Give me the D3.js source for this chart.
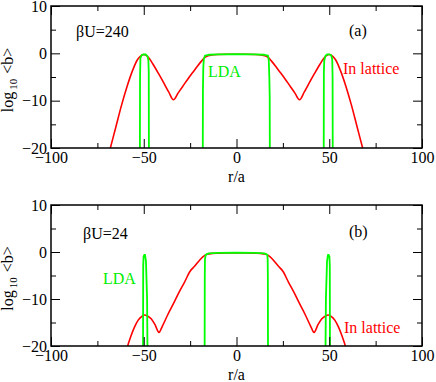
<!DOCTYPE html>
<html>
<head>
<meta charset="utf-8">
<script src="https://cdn.jsdelivr.net/npm/d3@7"></script>
<style>
  body { margin: 0; background: #fff; }
  svg { display: block; }
  text { font-family: "Liberation Serif", "Times New Roman", serif; }
</style>
</head>
<body>
<div id="chart"></div>
<script>
var wide = 436;
var high = 382;

// tick values
var xMajor = [-100, -50, 0, 50, 100];
var xMinor = [-75, -25, 25, 75];
var yMajor = [-20, -10, 0, 10];
var yMinor = [-15, -5, 5];

// panel (a), beta U = 240 : in lattice
var latticeA_r = [-68, -65, -62, -59, -56, -53.5, -52, -50, -48.5, -47, -45, -42, -39, -36.5, -34, -31.5, -29, -26, -23.5, -21, -19, -17.5, -16, -14, -10, -5, 0,
                  5, 10, 14, 16, 17.5, 19, 21, 23.5, 26, 29, 31.5, 34, 36.5, 39, 42, 45, 47, 48.5, 50, 52, 53.5, 56, 59, 62, 65, 68];
var latticeA_v = [-20, -15.5, -11, -7, -3.6, -1.4, -0.7, -0.25, -0.5, -1.1, -2.3, -4.3, -6.4, -8.2, -9.8, -8.4, -7, -5.3, -4, -2.7, -1.7, -1, -0.6, -0.4, -0.25, -0.2, -0.2,
                  -0.2, -0.25, -0.4, -0.6, -1, -1.7, -2.7, -4, -5.3, -7, -8.4, -9.8, -8.2, -6.4, -4.3, -2.3, -1.1, -0.5, -0.25, -0.7, -1.4, -3.6, -7, -11, -15.5, -20];
// panel (a) : LDA
var ldaA_r = [-52.1, -52, -51.8, -51, -50, -49, -48, -47.5, -47.3, -47.2,
              -18.2, -18.1, -17.9, -17.6, -17, -15, -10, 0, 10, 15, 17, 17.4, 17.7, 17.9, 18,
              47, 47.1, 47.3, 48, 49, 50, 51, 51.6, 51.8, 51.9];
var ldaA_v = [-25, -5, -1, -0.3, -0.2, -0.25, -0.6, -1.5, -4, -25,
              -25, -8, -3, -1.2, -0.5, -0.3, -0.2, -0.15, -0.2, -0.3, -0.5, -1.5, -5, -9, -25,
              -25, -4, -1.5, -0.5, -0.2, -0.2, -0.4, -1.2, -5, -25];

// panel (b), beta U = 24 : in lattice
var latticeB_r = [-58.7, -57, -55, -53, -51, -49.5, -48, -46, -44, -41.8, -40, -37, -34, -31, -28, -25, -22.5, -20, -18, -16, -13, -10, -5, 0,
                  5, 10, 13, 16, 18, 20, 22.5, 25, 28, 31, 34, 37, 40, 41.8, 44, 46, 48, 49.5, 51, 53, 55, 57, 58.7];
var latticeB_v = [-20, -18, -16, -14.5, -13.7, -13.4, -13.6, -14.2, -15.4, -17.1, -15.8, -13.3, -11, -8.6, -6.4, -4.1, -3, -1.8, -1, -0.5, -0.3, -0.25, -0.2, -0.2,
                  -0.2, -0.25, -0.3, -0.5, -1, -1.8, -3, -4.1, -6.4, -8.6, -11, -13.3, -15.8, -17.1, -15.4, -14.2, -13.6, -13.4, -13.7, -14.5, -16, -18, -20];
// panel (b) : LDA
var ldaB_r = [-50.4, -50.3, -50.1, -49.7, -49.3, -48.8, -48.2, -47.9,
              -17.2, -17.1, -17, -16.6, -15, -10, 0, 10, 15, 16.6, 16.8, 16.9, 17,
              47.9, 48.2, 48.8, 49.3, 49.7, 50.1, 50.3, 50.4];
var ldaB_v = [-25, -3, -1, -0.6, -0.6, -2, -10, -25,
              -25, -5, -1.5, -0.6, -0.3, -0.2, -0.15, -0.2, -0.3, -0.6, -1.5, -5, -25,
              -25, -10, -2, -0.6, -0.6, -1, -3, -25];

var svg = d3.select("#chart").append("svg")
  .attr("width", wide)
  .attr("height", high);

function zip(rs, vs) {
  return rs.map(function(r, i) { return [r, vs[i]]; });
}

function drawPanel(p) {
  var xScale = d3.scaleLinear().domain([-100, 100]).range([51, 422]);
  var yScale = d3.scaleLinear().domain([-20, 10]).range([p.bottom, p.top]);

  var g = svg.append("g");

  g.append("clipPath").attr("id", p.id)
    .append("rect")
    .attr("x", 51).attr("y", p.top)
    .attr("width", 371).attr("height", p.bottom - p.top);

  var line = d3.line()
    .x(function(d) { return xScale(d[0]); })
    .y(function(d) { return yScale(d[1]); })
    .curve(d3.curveMonotoneX);

  var lines = g.append("g").attr("clip-path", "url(#" + p.id + ")");
  lines.append("path")
    .datum(zip(p.latR, p.latV))
    .attr("d", line)
    .attr("fill", "none")
    .attr("stroke", "#ff0000")
    .attr("stroke-width", 1.6);
  lines.append("path")
    .datum(zip(p.ldaR, p.ldaV))
    .attr("d", d3.line()
      .x(function(d) { return xScale(d[0]); })
      .y(function(d) { return yScale(d[1]); }))
    .attr("fill", "none")
    .attr("stroke", "#00ff00")
    .attr("stroke-width", 1.8)
    .attr("stroke-linejoin", "round");

  // axes, ticks pointing inward
  function ax(axis, tr, vals, len, labels) {
    var a = g.append("g")
      .attr("transform", tr)
      .call(axis.tickValues(vals).tickSizeInner(-len).tickSizeOuter(0).tickPadding(4)
        .tickFormat(labels ? d3.format("d") : ""));
    a.select(".domain").remove();
    a.selectAll("line").attr("stroke", "#000").attr("stroke-width", 1);
    a.selectAll("text").attr("font-size", 16).attr("fill", "#000")
      .style("font-family", "'Liberation Serif', 'Times New Roman', serif");
    return a;
  }
  ax(d3.axisBottom(xScale), "translate(0," + p.bottom + ")", xMajor, 9, true);
  ax(d3.axisBottom(xScale), "translate(0," + p.bottom + ")", xMinor, 5, false);
  ax(d3.axisTop(xScale), "translate(0," + p.top + ")", xMajor, 9, false);
  ax(d3.axisTop(xScale), "translate(0," + p.top + ")", xMinor, 5, false);
  ax(d3.axisLeft(yScale), "translate(51,0)", yMajor, 9, true);
  ax(d3.axisLeft(yScale), "translate(51,0)", yMinor, 5, false);
  ax(d3.axisRight(yScale), "translate(422,0)", yMajor, 9, false);
  ax(d3.axisRight(yScale), "translate(422,0)", yMinor, 5, false);

  g.append("rect")
    .attr("x", 51).attr("y", p.top)
    .attr("width", 371).attr("height", p.bottom - p.top)
    .attr("fill", "none")
    .attr("stroke", "#000")
    .attr("stroke-width", 1.5);

  g.append("text")
    .attr("x", 236.5).attr("y", p.bottom + 34)
    .attr("text-anchor", "middle")
    .attr("font-size", 16)
    .text("r/a");

  var yl = g.append("text")
    .attr("transform", "translate(13," + ((p.top + p.bottom) / 2 + 3) + ") rotate(-90)")
    .attr("text-anchor", "middle")
    .attr("font-size", 16);
  yl.append("tspan").text("log");
  yl.append("tspan").attr("dy", 4).attr("dx", 2).attr("font-size", 11).text("10");
  yl.append("tspan").attr("dy", -4).attr("dx", 5).text("<b>");

  g.append("text").attr("x", p.bu[0]).attr("y", p.bu[1])
    .attr("font-size", 16).text(p.buText);
  g.append("text").attr("x", p.tag[0]).attr("y", p.tag[1])
    .attr("font-size", 16).text(p.tagText);
  g.append("text").attr("x", p.lda[0]).attr("y", p.lda[1])
    .attr("font-size", 16).attr("fill", "#00ee00").text("LDA");
  g.append("text").attr("x", p.lat[0]).attr("y", p.lat[1])
    .attr("font-size", 16).attr("fill", "#ff0000").text("In lattice");
}

drawPanel({
  id: "clipA", top: 6, bottom: 148,
  latR: latticeA_r, latV: latticeA_v, ldaR: ldaA_r, ldaV: ldaA_v,
  bu: [76, 37], buText: "\u03b2U=240",
  tag: [349, 36], tagText: "(a)",
  lda: [208, 77], lat: [343, 74]
});

drawPanel({
  id: "clipB", top: 205, bottom: 346,
  latR: latticeB_r, latV: latticeB_v, ldaR: ldaB_r, ldaV: ldaB_v,
  bu: [83, 239], buText: "\u03b2U=24",
  tag: [349, 237], tagText: "(b)",
  lda: [103, 284], lat: [344, 333]
});
</script>
</body>
</html>
